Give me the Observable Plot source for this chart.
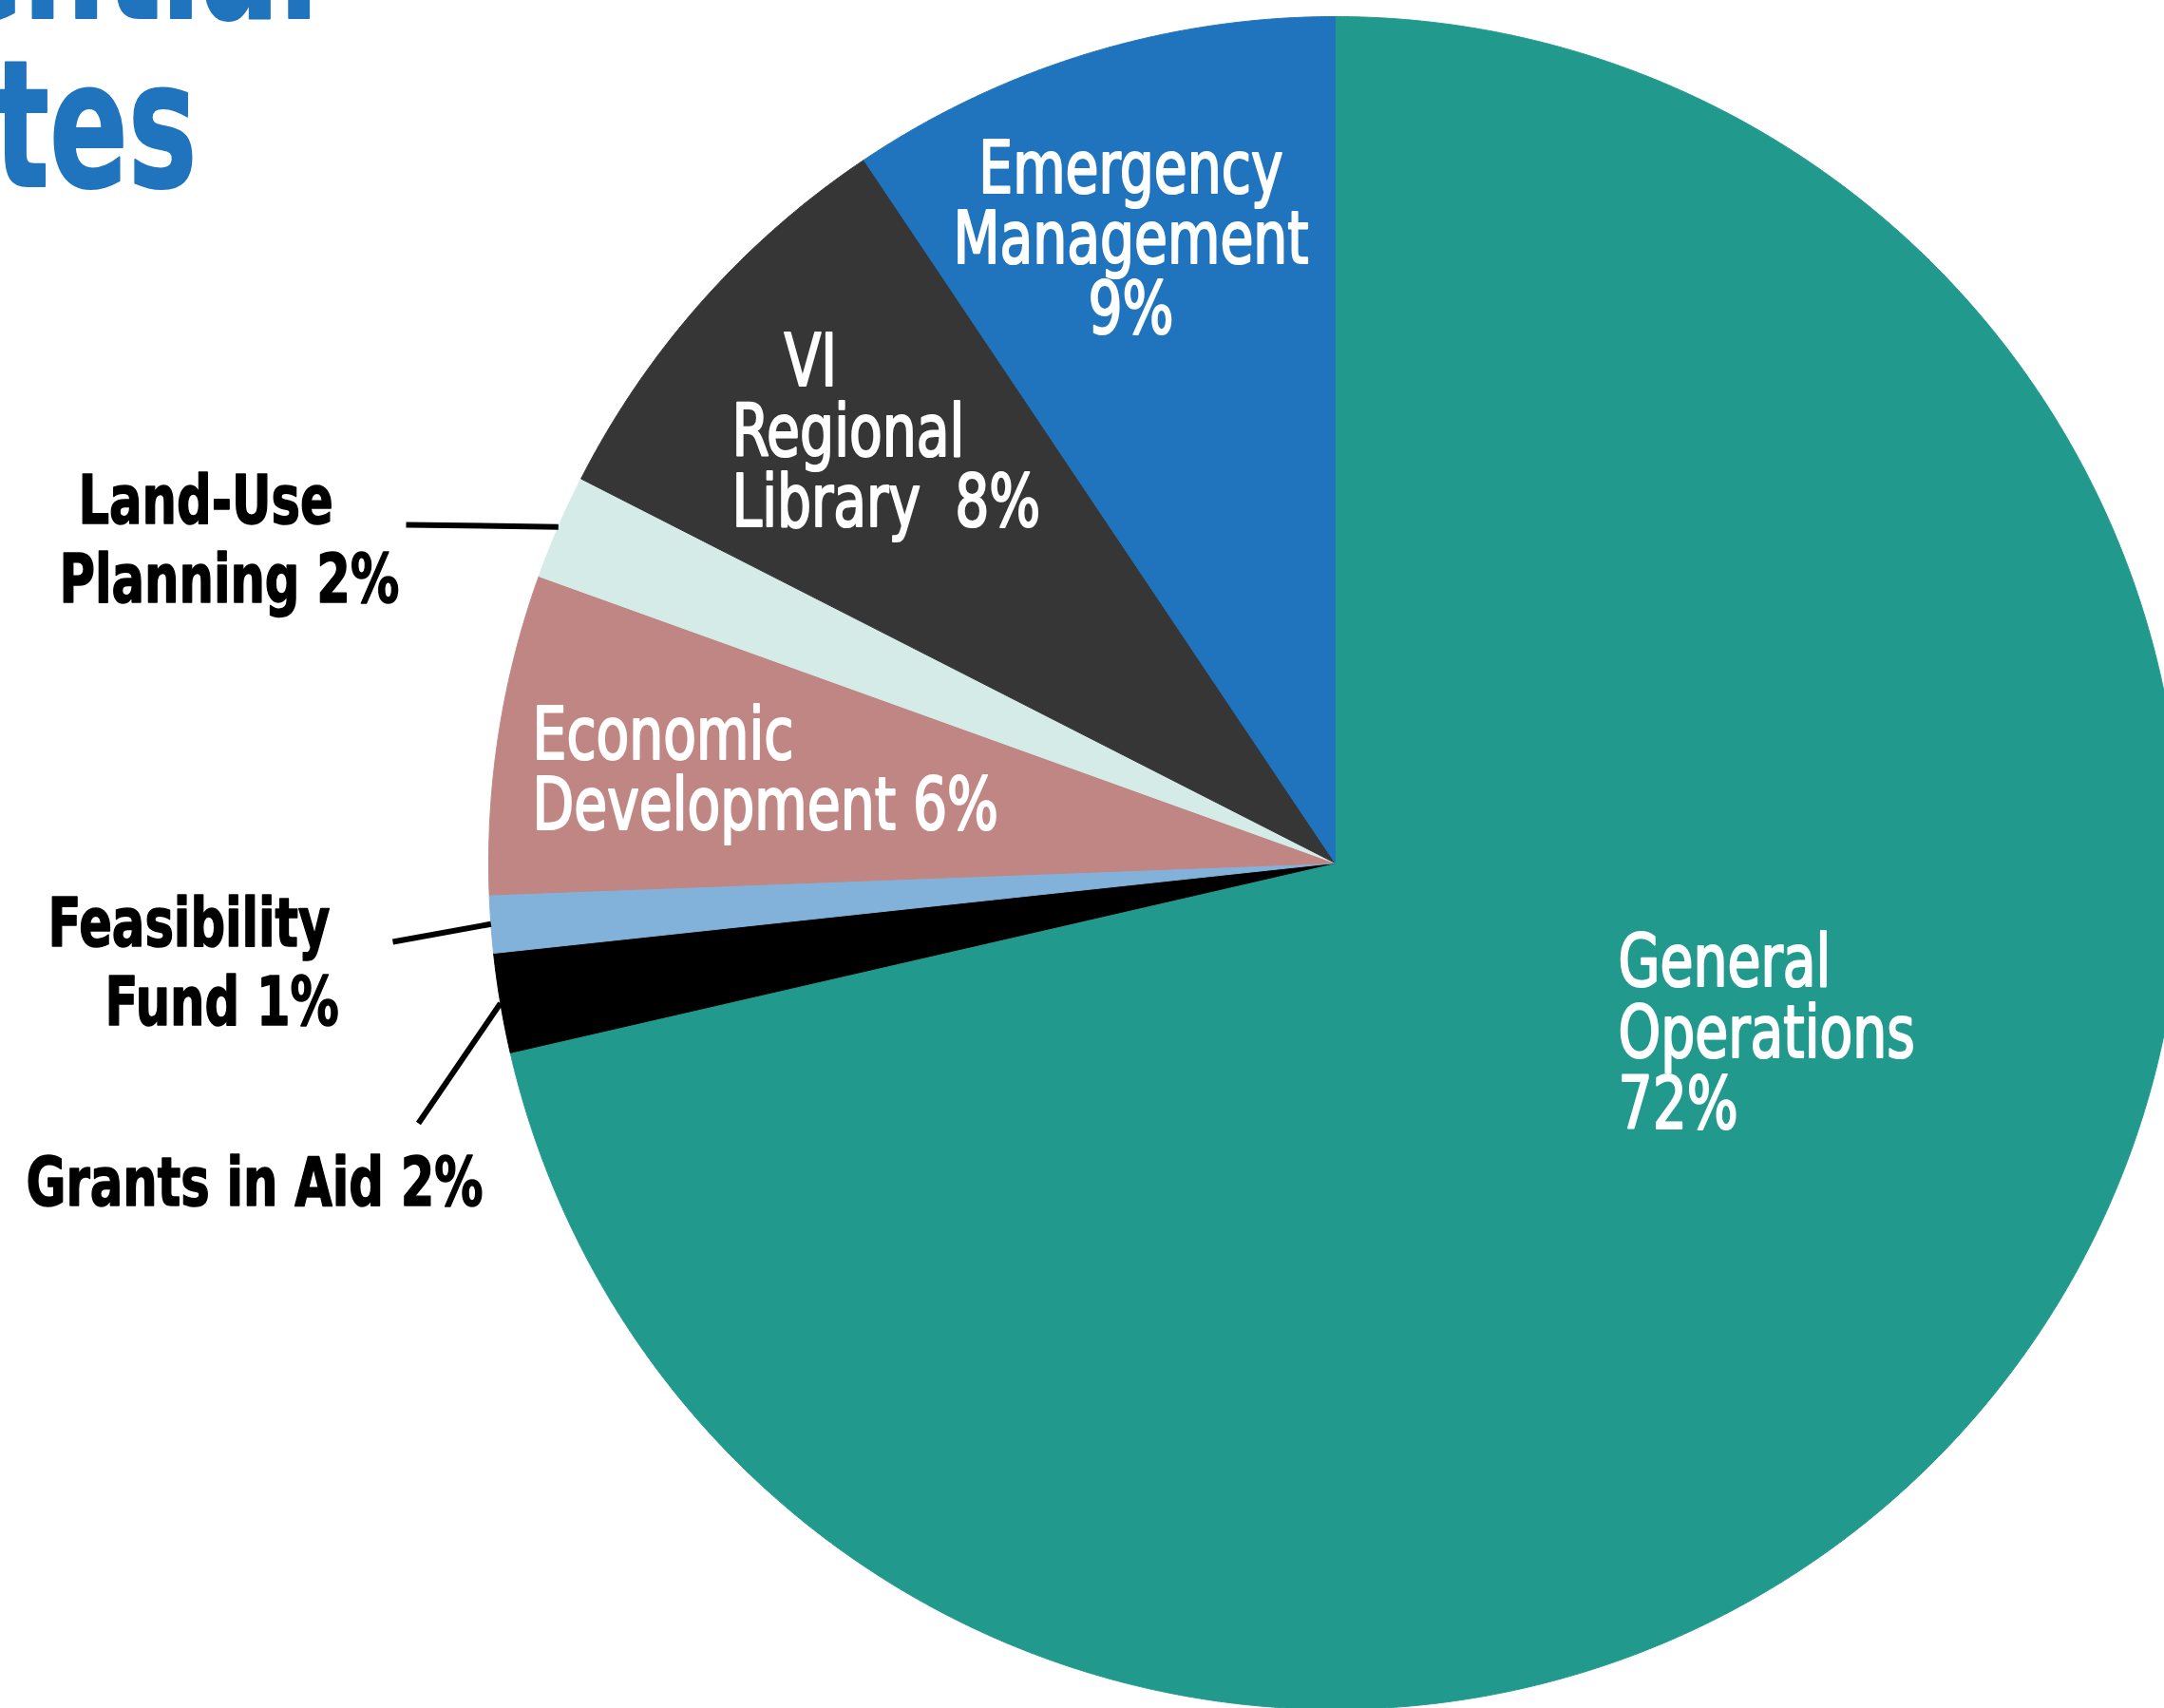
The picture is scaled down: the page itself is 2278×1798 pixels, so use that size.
<!DOCTYPE html>
<html>
<head>
<meta charset="utf-8">
<script src="https://cdn.jsdelivr.net/npm/d3@7"></script>
<script src="https://cdn.jsdelivr.net/npm/@observablehq/plot@0.6"></script>
<style>
  html, body { margin: 0; padding: 0; background: #ffffff; overflow: hidden; }
  #chart svg { display: block; }
</style>
</head>
<body>
<div id="chart"></div>
<script>
// ---------------- DATA ----------------
const categories = [
  "General Operations",
  "Grants in Aid",
  "Feasibility Fund",
  "Economic Development",
  "Land-Use Planning",
  "VI Regional Library",
  "Emergency Management"
];
// share of the budget (percent)
const shares = [71.4, 1.9, 1.1, 6.1, 2.0, 8.1, 9.4];
// label text, line by line
const labelLines = [
  ["General", "Operations", "72%"],
  ["Grants in Aid 2%"],
  ["Feasibility", "Fund 1%"],
  ["Economic", "Development 6%"],
  ["Land-Use", "Planning 2%"],
  ["VI", "Regional", "Library  8%"],
  ["Emergency", "Management", "9%"]
];
const titleLines = ["Residential", "Rates"];

// ---------------- STYLE / LAYOUT ----------------
const palette = ["#219A8D", "#000000", "#82B2D9", "#C08684", "#D5EBE8", "#363636", "#1F74BD"];
const TITLE_COLOR = "#1f74bd";
const W = 2278, H = 1798;
const CX = 1405, CY = 908, R = 891;          // pie centre (px) and radius (units = px)
const NARROW = "'Liberation Sans Narrow', 'DejaVu Sans Condensed', 'DejaVu Sans', sans-serif";
// horizontal condensing per text colour (the reference uses a condensed gothic face)
const condense = {"white": 0.82, "black": 0.79, [TITLE_COLOR]: 0.73};

// label placement relative to pie centre (x right, y up); y = first baseline
const inside = {fill: "white", size: 77, weight: 400, halo: 2.2};
const outside = {fill: "black", size: 72, weight: 700, halo: 1.5};
const labelLayout = {
  "General Operations":   {...inside, x: [298], y: -129, gap: 75, anchor: "start"},
  "Emergency Management": {...inside, x: [-215], y: 706, gap: 74, anchor: "middle"},
  "VI Regional Library":  {...inside, x: [-580, -635, -635], y: 503, gap: 74, anchor: "start"},
  "Economic Development": {...inside, x: [-845], y: 110, gap: 74, anchor: "start"},
  "Land-Use Planning":    {...outside, x: [-1323, -1343], y: 358, gap: 83, anchor: "start", leader: [-978, 356]},
  "Feasibility Fund":     {...outside, x: [-1355, -1295], y: -87, gap: 83, anchor: "start", leader: [-992, -83]},
  "Grants in Aid":        {...outside, x: [-1378], y: -360, gap: 83, anchor: "start", leader: [-965, -274]}
};

// ---------------- GEOMETRY (from data) ----------------
const arcs = d3.pie().sort(null).value(d => d)(shares);
const slices = arcs.map((a, i) => {
  const n = Math.max(2, Math.ceil((a.endAngle - a.startAngle) / 0.003));
  const pts = [{x: 0, y: 0}];
  for (let k = 0; k <= n; k++) {
    const t = a.startAngle + (a.endAngle - a.startAngle) * k / n;
    pts.push({x: R * Math.sin(t), y: R * Math.cos(t)});
  }
  pts.push({x: 0, y: 0});
  return {name: categories[i], color: palette[i], pts, mid: (a.startAngle + a.endAngle) / 2};
});

const textRows = [];
categories.forEach((c, i) => {
  const L = labelLayout[c];
  labelLines[i].forEach((line, j) => {
    textRows.push({
      text: line,
      x: L.x[Math.min(j, L.x.length - 1)],
      y: L.y - j * L.gap,
      anchor: L.anchor, fill: L.fill, size: L.size, weight: L.weight, halo: L.halo
    });
  });
});

const leaders = slices
  .filter(s => labelLayout[s.name].leader)
  .map(s => ({
    x1: R * Math.sin(s.mid), y1: R * Math.cos(s.mid),
    x2: labelLayout[s.name].leader[0], y2: labelLayout[s.name].leader[1]
  }));

// ---------------- MARKS ----------------
const sliceMarks = slices.map(s =>
  Plot.line(s.pts, {x: "x", y: "y", fill: s.color, stroke: s.color, strokeWidth: 1, curve: "linear"})
);

const textGroups = d3.groups(textRows, d => `${d.anchor}|${d.fill}|${d.size}|${d.weight}`);
const textMarks = textGroups.map(([, rows]) => {
  const r0 = rows[0];
  return Plot.text(rows, {
    x: "x", y: "y", text: "text",
    textAnchor: r0.anchor, lineAnchor: "bottom",
    fill: r0.fill, stroke: r0.fill, strokeWidth: r0.halo, strokeLinejoin: "round",
    fontSize: r0.size, fontWeight: r0.weight, fontFamily: NARROW
  });
});

const titleMarks = [
  Plot.text([titleLines[0]], {frameAnchor: "top-left", dx: 335, dy: 18, text: d => d,
    textAnchor: "end", lineAnchor: "bottom", fill: TITLE_COLOR, stroke: TITLE_COLOR, strokeWidth: 2,
    fontSize: 186, fontWeight: 700, fontFamily: NARROW}),
  Plot.text([titleLines[1]], {frameAnchor: "top-left", dx: 207, dy: 195, text: d => d,
    textAnchor: "end", lineAnchor: "bottom", fill: TITLE_COLOR, stroke: TITLE_COLOR, strokeWidth: 2,
    fontSize: 186, fontWeight: 700, fontFamily: NARROW})
];

const chart = Plot.plot({
  width: W, height: H,
  margin: 0,
  x: {domain: [-CX, W - CX], axis: null},
  y: {domain: [CY - H, CY], axis: null},
  style: {background: "white", overflow: "hidden"},
  marks: [
    ...sliceMarks,
    Plot.link(leaders, {x1: "x1", y1: "y1", x2: "x2", y2: "y2", stroke: "black", strokeWidth: 6, strokeLinecap: "butt"}),
    ...textMarks,
    ...titleMarks
  ]
});

// condense the text horizontally around its anchor
chart.querySelectorAll('g[aria-label="text"]').forEach(g => {
  const f = condense[(g.getAttribute("fill") || "").toLowerCase()];
  if (!f) return;
  g.querySelectorAll("text").forEach(t => {
    const tr = t.getAttribute("transform") || "";
    t.setAttribute("transform", `${tr} scale(${f},1)`);
  });
});
document.getElementById("chart").appendChild(chart);
</script>
</body>
</html>
